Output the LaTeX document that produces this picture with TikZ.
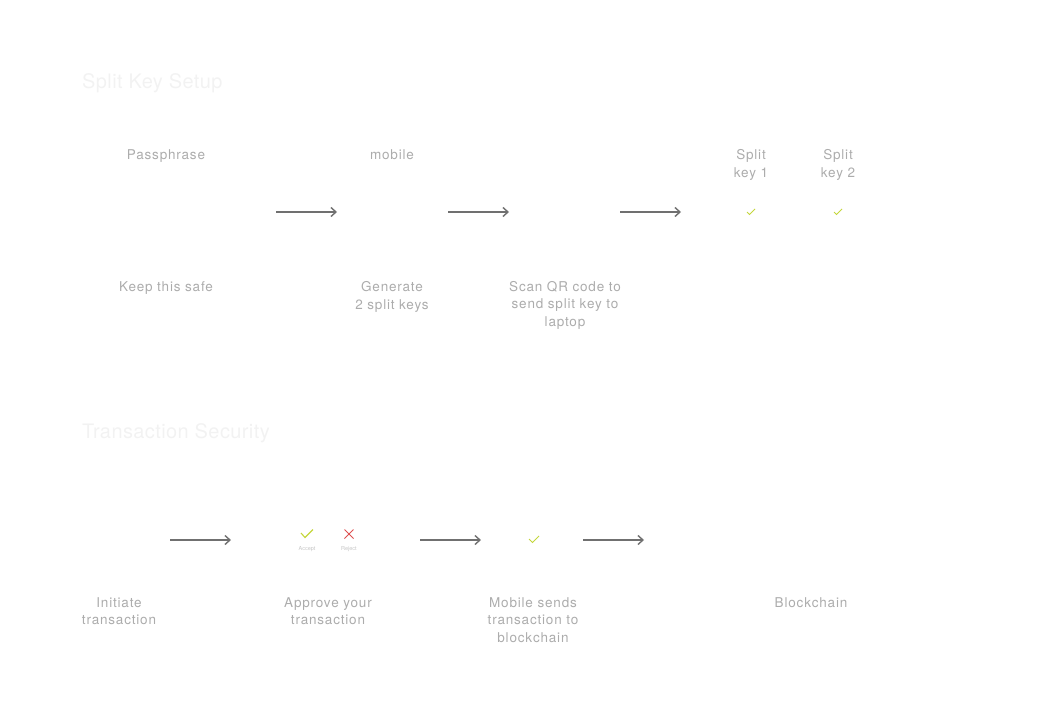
\documentclass[tikz,border=0pt]{standalone}
\usepackage{fontspec}
\setmainfont{TeX Gyre Heros}
\newfontfamily\lblfont[LetterSpace=6]{TeX Gyre Heros}
\newfontfamily\ttlfont[LetterSpace=2]{TeX Gyre Heros}
\usetikzlibrary{arrows.meta,calc}
\definecolor{txt}{RGB}{172,172,172}
\definecolor{ttl}{RGB}{242,242,242}
\definecolor{arr}{RGB}{112,112,112}
\definecolor{okc}{RGB}{196,214,60}
\definecolor{noc}{RGB}{222,80,80}
\tikzset{
  lbl/.style={text=txt,font=\lblfont\fontsize{13.5}{17.5}\selectfont,align=center,inner sep=0pt},
  ttlstyle/.style={text=ttl,font=\ttlfont\fontsize{20}{24}\selectfont,anchor=west,inner sep=0pt},
  flow/.style={draw=arr,line width=1.4pt,-{Straight Barb[length=5pt,width=9pt,line width=1.4pt]}},
  okmark/.style={draw=okc,line width=0.9pt},
  nomark/.style={draw=noc,line width=1pt},
  tiny/.style={text=txt!70,font=\fontsize{5.5}{6}\selectfont,inner sep=0pt}
}
\begin{document}
\begin{tikzpicture}[x=1pt,y=-1pt]
\useasboundingbox (0,0) rectangle (1055,717);
% titles
\node[ttlstyle] (t1) at (82,83) {Split Key Setup};
\node[ttlstyle] (t2) at (82,433) {Transaction Security};
% section 1 labels
\node[lbl] (pass) at (166,156) {Passphrase};
\node[lbl] (mob) at (392,155) {mobile};
\node[lbl] (k1) at (751,165) {Split\\key 1};
\node[lbl] (k2) at (838,165) {Split\\key 2};
\node[lbl] (safe) at (166,288) {Keep this safe};
\node[lbl] (gen) at (392,297) {Generate\\2 split keys};
\node[lbl] (scan) at (565,305) {Scan QR code to\\send split key to\\laptop};
% section 1 arrows
\coordinate (a1s) at (276,212); \coordinate (a1e) at (337,212);
\coordinate (a2s) at (448,212); \coordinate (a2e) at (509,212);
\coordinate (a3s) at (620,212); \coordinate (a3e) at (681,212);
\draw[flow] (a1s) -- (a1e);
\draw[flow] (a2s) -- (a2e);
\draw[flow] (a3s) -- (a3e);
% checks
\coordinate (c1) at (751,212);
\coordinate (c2) at (838,212);
\draw[okmark] ($(c1)+(-4,0)$) -- ($(c1)+(-1.5,2.5)$) -- ($(c1)+(4,-3)$);
\draw[okmark] ($(c2)+(-4,0)$) -- ($(c2)+(-1.5,2.5)$) -- ($(c2)+(4,-3)$);
% section 2
\coordinate (b1s) at (170,540); \coordinate (b1e) at (231,540);
\coordinate (b2s) at (420,540); \coordinate (b2e) at (481,540);
\coordinate (b3s) at (583,540); \coordinate (b3e) at (644,540);
\draw[flow] (b1s) -- (b1e);
\draw[flow] (b2s) -- (b2e);
\draw[flow] (b3s) -- (b3e);
\coordinate (acc) at (307,534);
\coordinate (rej) at (349,534);
\coordinate (c3) at (534,540);
\draw[okmark,line width=1.1pt] ($(acc)+(-6,-1)$) -- ($(acc)+(-2,3.5)$) -- ($(acc)+(6,-4.5)$);
\draw[nomark] ($(rej)+(-4.5,-4.5)$) -- ($(rej)+(4.5,4.5)$);
\draw[nomark] ($(rej)+(-4.5,4.5)$) -- ($(rej)+(4.5,-4.5)$);
\draw[okmark] ($(c3)+(-5,-1)$) -- ($(c3)+(-1.5,2.5)$) -- ($(c3)+(5,-4)$);
\node[tiny] (acct) at (307,549.5) {Accept};
\node[tiny] (rejt) at (349,549.5) {Reject};
\node[lbl] (init) at (119,611) {Initiate\\transaction};
\node[lbl] (appr) at (328,611) {Approve your\\transaction};
\node[lbl] (msend) at (533,620) {Mobile sends\\transaction to\\blockchain};
\node[lbl] (bc) at (811,603) {Blockchain};
\end{tikzpicture}
\end{document}
